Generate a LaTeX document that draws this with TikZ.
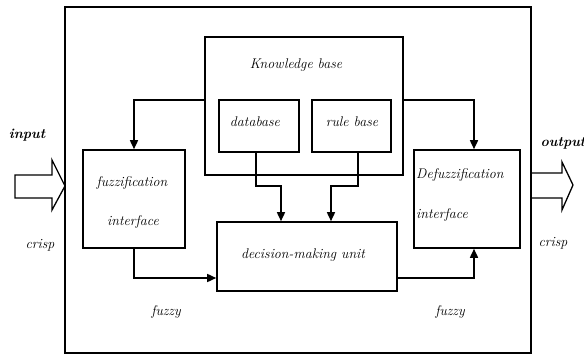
\documentclass[tikz,border=0pt]{standalone}
\usetikzlibrary{arrows.meta}

\begin{document}
\begin{tikzpicture}[x=1pt,y=-1pt,
  box/.style={draw, line width=1.6pt, inner sep=0pt},
  lbl/.style={font=\fontsize{14}{16}\selectfont\itshape, inner sep=0pt},
  arr/.style={line width=1.6pt, -{Triangle[length=9pt,width=8pt]}}]

\useasboundingbox (0,0) rectangle (584,355);

% outer frame
\draw[line width=1.3pt] (65,7) rectangle (531,353);

% blocks
\node[box, minimum width=198, minimum height=138] (kb) at (304,106) {};
\node[box, minimum width=80, minimum height=52] (db) at (259,126) {};
\node[box, minimum width=79, minimum height=52] (rb) at (351.5,126) {};
\node[box, minimum width=102, minimum height=98] (fuzz) at (134,199) {};
\node[box, minimum width=106, minimum height=98] (defuzz) at (467,199) {};
\node[box, minimum width=180, minimum height=69] (dec) at (307,256.5) {};

% texts in the blocks
\node[lbl] (kbtext) at (296,65) {Knowledge base};
\node[lbl] (dbtext) at (255,122) {database};
\node[lbl] (rbtext) at (352,122) {rule base};
\node[lbl] (fuzztext1) at (132,183) {fuzzification};
\node[lbl] (fuzztext2) at (133,222) {interface};
\node[lbl, anchor=west] (defuzztext1) at (416,175) {Defuzzification};
\node[lbl, anchor=west] (defuzztext2) at (416,215) {interface};
\node[lbl] (dectext) at (303,255) {decision-making unit};

% connectors
\draw[arr] ([yshift=6]kb.west) -| (fuzz.north);
\draw[arr] ([yshift=6]kb.east) -| ([xshift=7]defuzz.north);
\draw[arr] ([xshift=-3]db.south) -- ++(0,33) -| ([xshift=-26]dec.north);
\draw[arr] ([xshift=6.5]rb.south) -- ++(0,33) -| ([xshift=24]dec.north);
\draw[arr] (fuzz.south) |- ([yshift=-21.5]dec.west);
\draw[arr] ([yshift=-21.5]dec.east) -| ([xshift=7]defuzz.south);

% input and output arrows
\draw[line width=1.3pt] (15,175) -- (52,175) -- (52,160) -- (65,186) -- (52,210) -- (52,198) -- (15,198) -- cycle;
\draw[line width=1.3pt] (531,173) -- (562,173) -- (562,162) -- (573,185) -- (562,210) -- (562,198) -- (531,198);

% outside labels
\node[lbl, font=\fontsize{14}{16}\selectfont\bfseries\itshape] (inlbl) at (27,135) {input};
\node[lbl, font=\fontsize{14}{16}\selectfont\bfseries\itshape] (outlbl) at (563,143) {output};
\node[lbl] (crispin) at (40,245) {crisp};
\node[lbl] (crispout) at (553,243) {crisp};
\node[lbl] (fuzzyin) at (166,312) {fuzzy};
\node[lbl] (fuzzyout) at (450,312) {fuzzy};

\end{tikzpicture}
\end{document}
